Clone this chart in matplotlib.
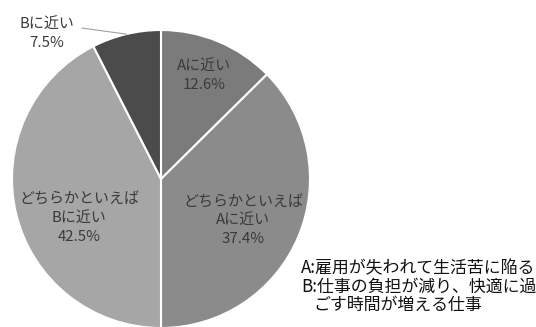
import numpy as np
import matplotlib
matplotlib.use("Agg")
import matplotlib.pyplot as plt

plt.rcParams['font.family'] = ['Noto Sans CJK JP', 'DejaVu Sans']

# share of answers, clockwise from 12 o'clock
labels = ["Aに近い", "どちらかといえば\nAに近い", "どちらかといえば\nBに近い", "Bに近い"]
shares = [12.6, 37.4, 42.5, 7.5]
colors = ["#7b7b7b", "#8b8b8b", "#a6a6a6", "#4b4b4b"]

# where each label sits, in pie units (radius = 1)
label_pos = [(0.29, 0.69), (0.55, -0.28), (-0.55, -0.265), (-0.765, 0.975)]

legend_lines = ["A:雇用が失われて生活苦に陥る",
                "B:仕事の負担が減り、快適に過",
                "ごす時間が増える仕事"]

W, H = 536, 327
fig = plt.figure(figsize=(W / 100, H / 100), dpi=100)
cx, cy, r = 161, 179, 149
ax = fig.add_axes([(cx - r) / W, (H - cy - r) / H, 2 * r / W, 2 * r / H])

wedges, _ = ax.pie(shares, colors=colors, startangle=90, counterclock=False,
                   radius=1, wedgeprops=dict(edgecolor="white", linewidth=1.5))
ax.set_xlim(-1, 1)
ax.set_ylim(-1, 1)
ax.set_aspect("equal")
ax.axis("off")

for lab, val, (x, y) in zip(labels, shares, label_pos):
    ax.text(x, y, f"{lab}\n{val:.1f}%", ha="center", va="center",
            fontsize=10.8, color="#3a3a3a", linespacing=1.4, clip_on=False)

# leader line for the small slice
w = wedges[3]
mid = np.deg2rad((w.theta1 + w.theta2) / 2)
ax.plot([-0.53, np.cos(mid)], [1.013, np.sin(mid)], color="#a0a0a0",
        lw=0.8, clip_on=False)

fig.text(301 / W, 1 - 268 / H, legend_lines[0], fontsize=12.2, va="center",
         color="#111111")
fig.text(301 / W, 1 - 287 / H, legend_lines[1], fontsize=12.2, va="center",
         color="#111111")
fig.text(313 / W, 1 - 305 / H, legend_lines[2], fontsize=12.2, va="center",
         color="#111111")

fig.savefig("out.png", dpi=100)
